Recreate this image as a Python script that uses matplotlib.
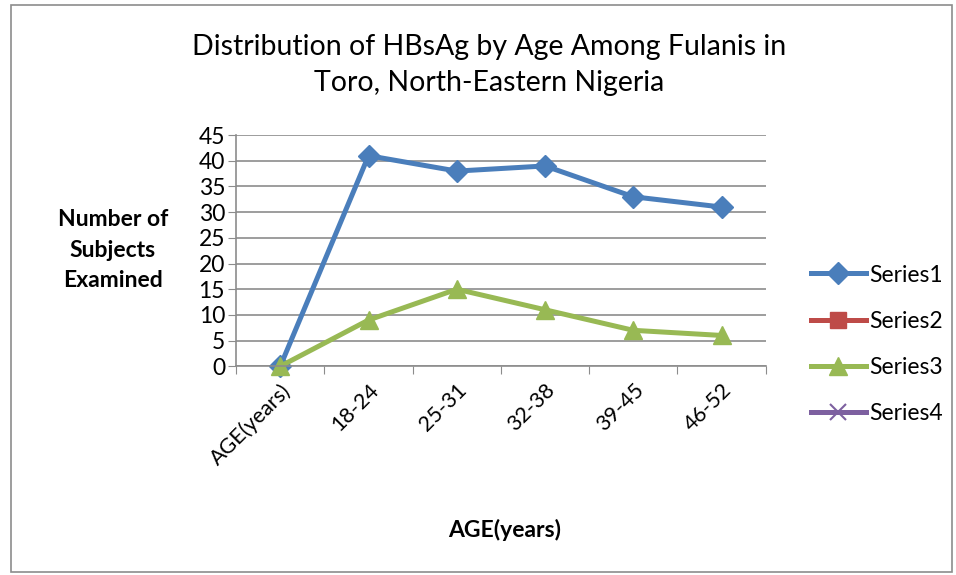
import numpy as np
import matplotlib.pyplot as plt
from matplotlib.patches import Rectangle

plt.rcParams['font.family'] = ['Lato', 'DejaVu Sans']

categories = ["AGE(years)", "18-24", "25-31", "32-38", "39-45", "46-52"]
series1 = [0, 41, 38, 39, 33, 31]
series2 = [np.nan] * 6
series3 = [0, 9, 15, 11, 7, 6]
series4 = [np.nan] * 6

fig = plt.figure(figsize=(9.56, 5.75), dpi=100)
ax = fig.add_axes([0.247, 0.363, 0.554, 0.402])

x = np.arange(len(categories))
ax.plot(x, series1, color="#4A7EBB", lw=3.6, marker="D", ms=11, label="Series1", clip_on=False)
ax.plot(x, series2, color="#BE4B48", lw=3.6, marker="s", ms=11, label="Series2", clip_on=False)
ax.plot(x, series3, color="#98B954", lw=3.6, marker="^", ms=13, label="Series3", clip_on=False)
ax.plot(x, series4, color="#7D60A0", lw=3.6, marker="x", ms=11, mew=1.5, label="Series4", clip_on=False)

ax.set_xlim(-0.5, len(categories) - 0.5)
ax.set_ylim(0, 45)
ax.set_yticks(range(0, 46, 5))
ax.yaxis.grid(True, color="#8c8c8c", lw=1.2)
ax.set_axisbelow(True)
for s in ["top", "right"]:
    ax.spines[s].set_visible(False)
for s in ["left", "bottom"]:
    ax.spines[s].set_color("#8c8c8c")
    ax.spines[s].set_linewidth(1.2)

ax.set_xticks(np.arange(-0.5, len(categories), 1.0))
ax.set_xticklabels([])
ax.set_xticks(x, minor=True)
ax.set_xticklabels(categories, minor=True, rotation=45, ha="right", va="top",
                   rotation_mode="anchor", fontsize=15.5)
ax.tick_params(axis="x", which="minor", length=0, pad=10)
ax.tick_params(axis="x", which="major", length=6, color="#8c8c8c", direction="out")
ax.tick_params(axis="y", length=6, color="#8c8c8c", labelsize=16.5, pad=2)

fig.text(0.512, 0.918, "Distribution of HBsAg by Age Among Fulanis in",
         ha="center", va="center", fontsize=20.5)
fig.text(0.512, 0.855, "Toro, North-Eastern Nigeria",
         ha="center", va="center", fontsize=20.5)
fig.text(0.118, 0.565, "Number of\nSubjects\nExamined", ha="center", va="center",
         fontsize=16.5, fontweight="bold", linespacing=1.55)
fig.text(0.528, 0.078, "AGE(years)", ha="center", va="center",
         fontsize=16.5, fontweight="bold")

ax.legend(loc="center left", bbox_to_anchor=(1.055, 0.095), frameon=False,
          fontsize=16.5, labelspacing=1.1, handlelength=2.4, handletextpad=0.15,
          borderaxespad=0.3)

fig.patches.append(Rectangle((0.011, 0.006), 0.985, 0.986, transform=fig.transFigure,
                             fill=False, edgecolor="#8c8c8c", lw=1.2))

fig.savefig("out.png", dpi=100)
